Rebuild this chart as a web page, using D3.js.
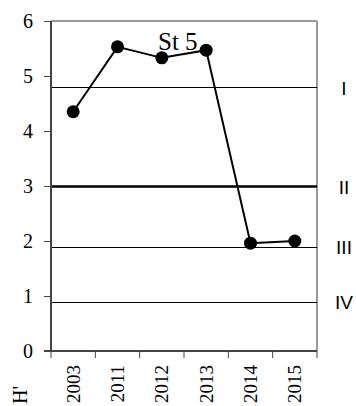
<!DOCTYPE html>
<html>
<head>
<meta charset="utf-8">
<script src="https://cdn.jsdelivr.net/npm/d3@7"></script>
<style>
  body { margin: 0; background: #fff; }
  svg { display: block; }
</style>
</head>
<body>
<div id="chart-area"></div>
<script>
const years = ["2003", "2011", "2012", "2013", "2014", "2015"];
const hValues = [4.35, 5.53, 5.33, 5.47, 1.96, 2.0];
const yTicks = [0, 1, 2, 3, 4, 5, 6];
const levels = [4.8, 3, 1.9, 0.9];
const levelLabels = ["I", "II", "III", "IV"];

const serif = "'Liberation Serif', 'Times New Roman', serif";
const sans = "'Liberation Sans', Arial, sans-serif";

const chartSize = { width: 356, height: 406 };
const margin = { left: 51, right: 39, top: 21, bottom: 55 };
const width = chartSize.width - margin.left - margin.right;
const height = chartSize.height - margin.top - margin.bottom;

const svg = d3.select("#chart-area").append("svg")
    .attr("width", chartSize.width)
    .attr("height", chartSize.height);

const g = svg.append("g")
    .attr("transform", `translate(${margin.left}, ${margin.top})`);

const x = d3.scaleBand().domain(years).range([0, width]);
const y = d3.scaleLinear().domain([0, 6]).range([height, 0]);

// frame: top and right in grey
g.append("line")
    .attr("x1", 0).attr("x2", width).attr("y1", y(6)).attr("y2", y(6))
    .attr("stroke", "#999").attr("stroke-width", 2);
g.append("line")
    .attr("x1", width).attr("x2", width).attr("y1", y(6)).attr("y2", height)
    .attr("stroke", "#999").attr("stroke-width", 2);

// reference levels
g.selectAll(".level").data(levels).enter().append("line")
    .attr("class", "level")
    .attr("x1", 0).attr("x2", width)
    .attr("y1", d => Math.round(y(d)) + 0.5).attr("y2", d => Math.round(y(d)) + 0.5)
    .attr("stroke", "#000")
    .attr("stroke-width", d => d === 3 ? 2.5 : 1);

g.selectAll(".level-label").data(levels).enter().append("text")
    .attr("class", "level-label")
    .attr("x", width + 27)
    .attr("y", d => y(d) + 1)
    .attr("dy", "0.35em")
    .attr("text-anchor", "middle")
    .attr("font-family", sans)
    .attr("font-size", 19)
    .text((d, i) => levelLabels[i]);

// y axis: built by hand so font and placement are explicit
const yg = g.append("g");
yg.append("line")
    .attr("x1", 0).attr("x2", 0).attr("y1", y(6)).attr("y2", y(0))
    .attr("stroke", "#444").attr("stroke-width", 2);
yg.selectAll(".ytick").data(yTicks).enter().append("line")
    .attr("class", "ytick")
    .attr("x1", -7).attr("x2", 0)
    .attr("y1", d => Math.round(y(d)) + 0.5).attr("y2", d => Math.round(y(d)) + 0.5)
    .attr("stroke", "#444");
yg.selectAll(".ylabel").data(yTicks).enter().append("text")
    .attr("class", "ylabel")
    .attr("x", -18)
    .attr("y", d => y(d))
    .attr("dy", "0.35em")
    .attr("text-anchor", "end")
    .attr("font-family", serif)
    .attr("font-size", 20)
    .text(d => d);

// x axis: ticks on band boundaries
const xg = g.append("g").attr("transform", `translate(0, ${height})`);
xg.append("line")
    .attr("x1", -7).attr("x2", width).attr("y1", 0).attr("y2", 0)
    .attr("stroke", "#444").attr("stroke-width", 2);
const bounds = years.map(d => x(d)).concat([width]);
xg.selectAll(".xtick").data(bounds).enter().append("line")
    .attr("class", "xtick")
    .attr("x1", d => d).attr("x2", d => d)
    .attr("y1", 0).attr("y2", 7)
    .attr("stroke", "#444");
xg.selectAll(".xlabel").data(years).enter().append("text")
    .attr("class", "xlabel")
    .attr("transform", d => `translate(${x(d) + x.bandwidth() / 2}, 14) rotate(-90)`)
    .attr("dy", "0.35em")
    .attr("text-anchor", "end")
    .attr("font-family", serif)
    .attr("font-size", 19)
    .text(d => d);

// data line and markers
const line = d3.line()
    .x((d, i) => x(years[i]) + x.bandwidth() / 2)
    .y(d => y(d));
g.append("path")
    .datum(hValues)
    .attr("d", line)
    .attr("fill", "none")
    .attr("stroke", "#000")
    .attr("stroke-width", 2);
g.selectAll(".pt").data(hValues).enter().append("circle")
    .attr("class", "pt")
    .attr("cx", (d, i) => x(years[i]) + x.bandwidth() / 2)
    .attr("cy", d => y(d))
    .attr("r", 6.5)
    .attr("fill", "#000");

// title and axis label
svg.append("text")
    .attr("font-family", serif)
    .attr("x", 158).attr("y", 50)
    .attr("font-size", 25)
    .text("St 5");

svg.append("text")
    .attr("font-family", serif)
    .attr("transform", "translate(27, 404) rotate(-90)")
    .attr("font-size", 20)
    .text("H'");
</script>
</body>
</html>
